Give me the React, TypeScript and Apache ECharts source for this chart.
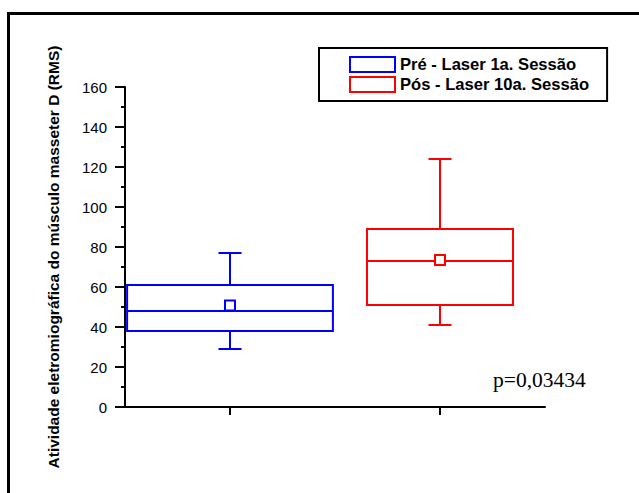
import React, { useEffect, useRef } from "react";
import * as echarts from "echarts";

const categories = ["Pré - Laser 1a. Sessão", "Pós - Laser 10a. Sessão"];
const mins = [29, 41];
const q1s = [38, 51];
const medians = [48, 73];
const q3s = [61, 89];
const maxs = [77, 124];
const means = [50.7, 73.5];
const colors = ["#0000ff", "#ff0000"];
const boxFractions = [0.98, 0.695];
const yTicks = { min: 0, max: 160, interval: 20 };
const pValueText = "p=0,03434";
const yAxisTitle = "Atividade eletromiográfica do músculo masseter D (RMS)";

function makeRenderItem(color: string, frac: number) {
  return (params: any, api: any) => {
    const cat = api.value(0);
    const band = api.size([1, 0])[0];
    const half = (band * frac) / 2;
    const capHalf = 11.5;
    const pMin = api.coord([cat, api.value(1)]);
    const pQ1 = api.coord([cat, api.value(2)]);
    const pMed = api.coord([cat, api.value(3)]);
    const pQ3 = api.coord([cat, api.value(4)]);
    const pMax = api.coord([cat, api.value(5)]);
    const pMean = api.coord([cat, api.value(6)]);
    const cx = pMed[0];
    const style = { stroke: color, fill: "none", lineWidth: 2 };
    const line = (x1: number, y1: number, x2: number, y2: number) => ({
      type: "line",
      shape: { x1, y1, x2, y2 },
      style,
    });
    return {
      type: "group",
      children: [
        {
          type: "rect",
          shape: { x: cx - half, y: pQ3[1], width: half * 2, height: pQ1[1] - pQ3[1] },
          style,
        },
        line(cx - half, pMed[1], cx + half, pMed[1]),
        line(cx, pQ3[1], cx, pMax[1]),
        line(cx, pQ1[1], cx, pMin[1]),
        line(cx - capHalf, pMax[1], cx + capHalf, pMax[1]),
        line(cx - capHalf, pMin[1], cx + capHalf, pMin[1]),
        {
          type: "rect",
          shape: { x: cx - 5, y: pMean[1] - 5, width: 10, height: 10 },
          style: { stroke: color, fill: "#fff", lineWidth: 2 },
        },
      ],
    };
  };
}

export default function App() {
  const ref = useRef<HTMLDivElement>(null);
  useEffect(() => {
    if (!ref.current) return;
    const chart = echarts.init(ref.current, null, { renderer: "svg" });
    const series = categories.map((name, i) => ({
      name,
      type: "custom",
      renderItem: makeRenderItem(colors[i], boxFractions[i]),
      itemStyle: { color: "#fff", borderColor: colors[i], borderWidth: 2 },
      encode: { x: 0, y: [1, 2, 3, 4, 5, 6] },
      data: [[i, mins[i], q1s[i], medians[i], q3s[i], maxs[i], means[i]]],
      z: 3,
    }));
    chart.setOption({
      animation: false,
      backgroundColor: "#fff",
      grid: { left: 125, right: 94, top: 87, bottom: 86 },
      xAxis: {
        type: "category",
        data: categories,
        boundaryGap: true,
        axisLine: { lineStyle: { color: "#000", width: 2 } },
        axisTick: {
          show: true,
          alignWithLabel: true,
          interval: 0,
          length: 8,
          lineStyle: { color: "#000", width: 2 },
        },
        axisLabel: { show: true, interval: 0, formatter: () => "" },
        splitLine: { show: false },
      },
      yAxis: {
        type: "value",
        min: yTicks.min,
        max: yTicks.max,
        interval: yTicks.interval,
        axisLine: { show: true, lineStyle: { color: "#000", width: 2 } },
        axisTick: { show: true, length: 10, lineStyle: { color: "#000", width: 2 } },
        minorTick: { show: true, splitNumber: 2, length: 4, lineStyle: { color: "#000", width: 2 } },
        axisLabel: {
          margin: 18,
          color: "#000",
          fontFamily: "Liberation Sans, Arial, sans-serif",
          fontSize: 15,
        },
        splitLine: { show: false },
      },
      legend: {
        orient: "vertical",
        left: 319,
        top: 48,
        padding: [8, 18, 8, 30],
        itemGap: 3,
        itemWidth: 45,
        itemHeight: 15,
        borderColor: "#000",
        borderWidth: 2,
        icon: "rect",
        textStyle: {
          color: "#000",
          fontWeight: "bold",
          fontSize: 16.6,
          fontFamily: "Liberation Sans, Arial, sans-serif",
        },
        data: categories.map((name, i) => ({
          name,
          icon: "rect",
          itemStyle: { color: "#fff", borderColor: colors[i], borderWidth: 2 },
        })),
      },
      graphic: [
        {
          type: "rect",
          silent: true,
          shape: { x: 8.5, y: 13.5, width: 700, height: 600 },
          style: { stroke: "#000", fill: "none", lineWidth: 3 },
          z: 10,
        },
        {
          type: "text",
          x: 53,
          y: 257,
          rotation: Math.PI / 2,
          style: {
            text: yAxisTitle,
            fill: "#000",
            font: "bold 15.5px 'Liberation Sans', Arial, sans-serif",
            align: "center",
            verticalAlign: "middle",
          },
        },
        {
          type: "text",
          x: 493,
          y: 380,
          style: {
            text: pValueText,
            fill: "#000",
            font: "21.5px 'Liberation Serif', 'Times New Roman', serif",
            align: "left",
            verticalAlign: "middle",
          },
        },
      ],
      series,
    });
    return () => chart.dispose();
  }, []);
  return (
    <div
      ref={ref}
      style={{ position: "fixed", left: 0, top: 0, width: 639, height: 493 }}
    />
  );
}
